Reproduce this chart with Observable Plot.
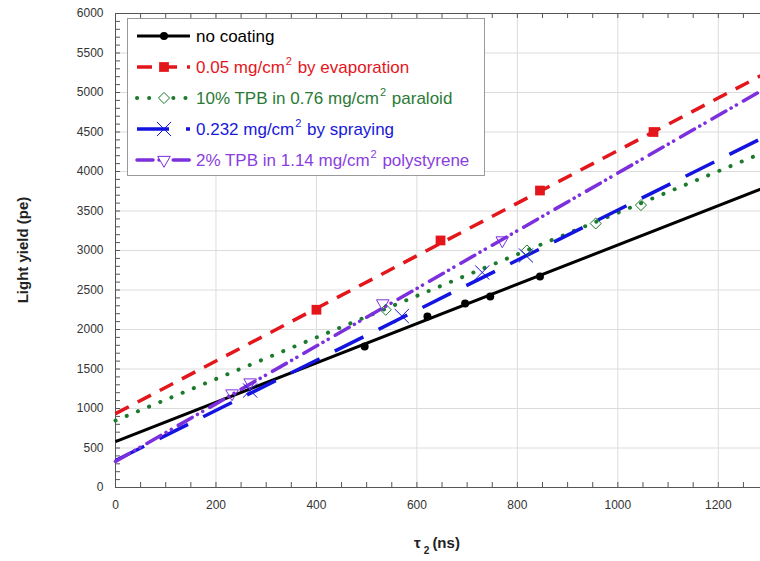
<!DOCTYPE html>
<html><head><meta charset="utf-8">
<script src="https://cdn.jsdelivr.net/npm/d3@7"></script>
<script src="https://cdn.jsdelivr.net/npm/@observablehq/plot@0.6"></script>
<style>body{margin:0;background:#fff}#chart{width:760px;height:561px}</style>
</head><body><div id="chart"></div>
<script>
// ---- data ----
const seriesLabels = ["no coating", "0.05 mg/cm^2 by evaporation", "10% TPB in 0.76 mg/cm^2 paraloid", "0.232 mg/cm^2 by spraying", "2% TPB in 1.14 mg/cm^2 polystyrene"];
const fitIntercepts = [580, 935, 848, 342, 330];
const fitSlopes = [2.49, 3.33, 2.63, 3.17, 3.65];
const noCoatingX = [496, 621, 696, 746, 845];
const noCoatingY = [1785, 2165, 2329, 2418, 2671];
const evaporationX = [400, 647, 845, 1071];
const evaporationY = [2250, 3127, 3759, 4500];
const paraloidX = [538, 819, 956, 1046];
const paraloidY = [2250, 3000, 3342, 3575];
const sprayingX = [268, 570, 730, 817];
const sprayingY = [1228, 2170, 2722, 2937];
const polystyreneX = [232, 268, 532, 770];
const polystyreneY = [1190, 1329, 2330, 3127];
const xTicks = [0, 200, 400, 600, 800, 1000, 1200];
const yTicks = [0, 500, 1000, 1500, 2000, 2500, 3000, 3500, 4000, 4500, 5000, 5500, 6000];
const xDomain = [0, 1284];
const yDomain = [0, 6000];

// ---- styles ----
const colors = ["#000000", "#e3161c", "#1c7a2c", "#1414e0", "#7c2fdc"];
const textColors = ["#000000", "#e3161c", "#2a7a36", "#1818d8", "#8a3ee0"];
const dashes = [null, "15 10", "0.1 12", "32 17", "16 6 0.1 6 0.1 8"];
const caps = ["butt", "butt", "round", "butt", "round"];
const widths = [3, 3.5, 4, 3.5, 3.5];
const symbols = ["circle", "square", "diamond2", "times", "triangle2"];
const symR = [4, 5.5, 5, 6.5, 6];
const symFill = [true, true, false, false, false];
const symRotate = [0, 0, 0, 0, 180];

const pointSets = [[noCoatingX, noCoatingY], [evaporationX, evaporationY], [paraloidX, paraloidY], [sprayingX, sprayingY], [polystyreneX, polystyreneY]];

const W = 760, H = 561, mL = 115, mR = 0, mT = 13, mB = 74;
const innerW = W - mL - mR, innerH = H - mT - mB;
const xMinor = d3.range(xDomain[0], xDomain[1], 50);
const yMinor = d3.range(yDomain[0], yDomain[1] + 1, 100);

const marks = [
  Plot.gridX(xTicks, {stroke: "#dcdcdc", strokeOpacity: 1}),
  Plot.gridY(yTicks, {stroke: "#dcdcdc", strokeOpacity: 1}),
  Plot.tickX(xMinor, {x: d => d, insetTop: innerH - 5, stroke: "#555"}),
  Plot.tickX(xMinor, {x: d => d, insetBottom: innerH - 5, stroke: "#555"}),
  Plot.tickY(yMinor, {y: d => d, insetRight: innerW - 5, stroke: "#555"}),
  Plot.ruleX([xDomain[0]], {stroke: "#555"}),
  Plot.ruleY([yDomain[0], yDomain[1]], {stroke: "#555"})
];
seriesLabels.forEach((lab, i) => {
  const lineData = xDomain.map(x => ({x, y: fitIntercepts[i] + fitSlopes[i] * x}));
  marks.push(Plot.line(lineData, {x: "x", y: "y", stroke: colors[i], strokeWidth: widths[i], strokeDasharray: dashes[i], strokeLinecap: caps[i]}));
});
seriesLabels.forEach((lab, i) => {
  const [xs, ys] = pointSets[i];
  const pts = xs.map((x, j) => ({x, y: ys[j]}));
  marks.push(Plot.dot(pts, {x: "x", y: "y", symbol: symbols[i], r: symR[i], rotate: symRotate[i],
    fill: symFill[i] ? colors[i] : "none", stroke: colors[i], strokeWidth: symFill[i] ? 0 : 1}));
});

const plot = Plot.plot({
  width: W, height: H, marginLeft: mL, marginRight: mR, marginTop: mT, marginBottom: mB,
  style: {fontFamily: "'Liberation Sans', Arial, sans-serif", fontSize: "12px", background: "#fff", color: "#333"},
  x: {domain: xDomain, ticks: xTicks, tickSize: 0, tickPadding: 13, label: null, tickFormat: d3.format("d")},
  y: {domain: yDomain, ticks: yTicks, tickSize: 0, tickPadding: 12, label: null, tickFormat: d3.format("d")},
  marks
});
document.getElementById("chart").appendChild(plot);

// ---- axis titles and legend ----
const svg = d3.select(plot);
const fam = "'Liberation Sans', Arial, sans-serif";
svg.append("text").attr("transform", "translate(28,250) rotate(-90)").attr("text-anchor", "middle")
  .attr("font-family", fam).attr("font-size", 15).attr("font-weight", "bold").attr("fill", "#222")
  .text("Light yield (pe)");
const xt = svg.append("text").attr("x", 437).attr("y", 548).attr("text-anchor", "middle")
  .attr("font-family", fam).attr("font-size", 15).attr("font-weight", "bold").attr("fill", "#222");
xt.append("tspan").text("τ");
xt.append("tspan").attr("font-size", 10).attr("dy", 6).attr("dx", 3).text("2");
xt.append("tspan").attr("dy", -6).attr("dx", 3).text("(ns)");

const lg = svg.append("g").attr("font-family", fam).attr("text-anchor", "start");
lg.append("rect").attr("x", 127.5).attr("y", 18.5).attr("width", 357).attr("height", 157).attr("fill", "#fff").attr("stroke", "#9a9a9a");
seriesLabels.forEach((lab, i) => {
  const yy = 36 + i * 31;
  lg.append("line").attr("x1", 137).attr("x2", 190).attr("y1", yy).attr("y2", yy)
    .attr("stroke", colors[i]).attr("stroke-width", widths[i]).attr("stroke-dasharray", dashes[i]).attr("stroke-linecap", caps[i]);
  const sym = {circle: d3.symbolCircle, square: d3.symbolSquare, diamond2: d3.symbolDiamond2, times: d3.symbolTimes, triangle2: d3.symbolTriangle2}[symbols[i]];
  lg.append("path").attr("d", d3.symbol(sym, Math.PI * symR[i] * symR[i])())
    .attr("transform", `translate(164,${yy}) rotate(${symRotate[i]})`)
    .attr("fill", symFill[i] ? colors[i] : "#fff").attr("stroke", colors[i]).attr("stroke-width", symFill[i] ? 0 : 1);
  const t = lg.append("text").attr("x", 196).attr("y", yy + 6).attr("font-size", 17).attr("fill", textColors[i]).attr("text-anchor", "start");
  const parts = lab.split("^");
  t.append("tspan").text(parts[0]);
  if (parts.length > 1) {
    t.append("tspan").attr("font-size", 11).attr("dy", -8).attr("dx", 1).text(parts[1][0]);
    t.append("tspan").attr("dy", 8).attr("dx", 1).text(parts[1].slice(1));
  }
});
</script>
</body></html>
